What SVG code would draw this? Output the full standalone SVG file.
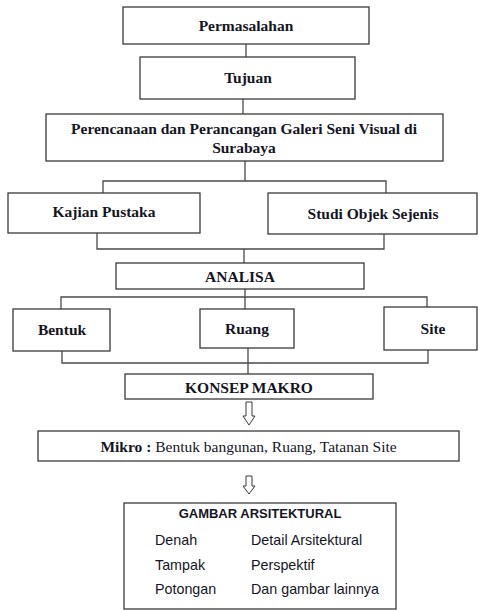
<svg xmlns="http://www.w3.org/2000/svg" width="478" height="610" viewBox="0 0 478 610">
<style>
.box{fill:#fff;stroke:#3a3a3a;stroke-width:1.3}
.t{font-family:"Liberation Serif","Times New Roman",serif;font-weight:bold;font-size:15.5px;fill:#15151f;text-anchor:middle}
.r{font-weight:normal}
.c{font-family:"Liberation Sans",Arial,sans-serif;font-size:14.3px;fill:#15151f}
.cb{font-weight:bold;font-size:13px;text-anchor:middle}
.ln{fill:none;stroke:#4a4a4a;stroke-width:1.3}
.ar{fill:#fff;stroke:#3a3a3a;stroke-width:1}
</style>
<rect width="478" height="610" fill="#fff"/>
<g id="connectors">
<path class="ln" d="M246,44V57"/>
<path class="ln" d="M243,99V114"/>
<path class="ln" d="M245,161V181M103,193V181H386V193"/>
<path class="ln" d="M97,233V249H384V234M244,249V263"/>
<path class="ln" d="M245,289V309M61,309V297H427V307"/>
<path class="ln" d="M62,351V363H428V350M248,348V374"/>
<path class="ar" d="M246,402H252V416H255L249,425L243,416H246Z"/>
<path class="ar" d="M246,476H252V486H255L249,494L243,486H246Z"/>
</g>
<g id="permasalahan"><rect class="box" x="123" y="7" width="246" height="37"/><text class="t" x="246" y="31">Permasalahan</text></g>
<g id="tujuan"><rect class="box" x="140" y="57" width="215" height="42"/><text class="t" x="248" y="83">Tujuan</text></g>
<g id="perencanaan"><rect class="box" x="46" y="114" width="397" height="47"/><text class="t" x="244" y="134">Perencanaan dan Perancangan Galeri Seni Visual di</text><text class="t" x="244" y="153">Surabaya</text></g>
<g id="kajian"><rect class="box" x="8" y="193" width="192" height="40"/><text class="t" x="104" y="217">Kajian Pustaka</text></g>
<g id="studi"><rect class="box" x="268" y="193" width="209" height="41"/><text class="t" x="373" y="219">Studi Objek Sejenis</text></g>
<g id="analisa"><rect class="box" x="116" y="263" width="248" height="26"/><text class="t" x="240" y="282">ANALISA</text></g>
<g id="bentuk"><rect class="box" x="13" y="309" width="97" height="42"/><text class="t" x="62" y="335">Bentuk</text></g>
<g id="ruang"><rect class="box" x="200" y="309" width="94" height="39"/><text class="t" x="247" y="334">Ruang</text></g>
<g id="site"><rect class="box" x="384" y="307" width="93" height="43"/><text class="t" x="433" y="334">Site</text></g>
<g id="konsep"><rect class="box" x="125" y="374" width="248" height="25"/><text class="t" x="249" y="393">KONSEP MAKRO</text></g>
<g id="mikro"><rect class="box" x="38" y="431" width="421" height="30"/><text class="t" x="248.5" y="452">Mikro : <tspan class="r">Bentuk bangunan, Ruang, Tatanan Site</tspan></text></g>
<g id="gambar"><rect class="box" x="124" y="503" width="272" height="106"/>
<text class="c cb" x="260" y="518">GAMBAR ARSITEKTURAL</text>
<text class="c" x="155" y="545">Denah</text>
<text class="c" x="155" y="570">Tampak</text>
<text class="c" x="155" y="594">Potongan</text>
<text class="c" x="251" y="545">Detail Arsitektural</text>
<text class="c" x="251" y="570">Perspektif</text>
<text class="c" x="251" y="594">Dan gambar lainnya</text>
</g>
</svg>
